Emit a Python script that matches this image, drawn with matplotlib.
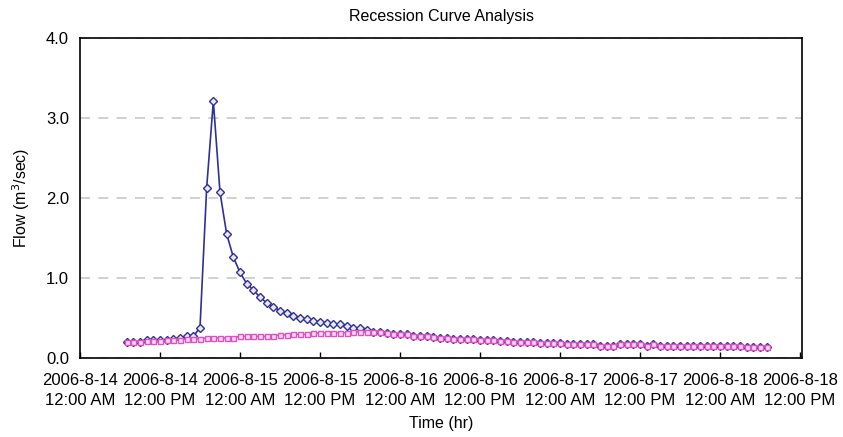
import datetime as dt
import matplotlib
matplotlib.use("Agg")
import matplotlib.pyplot as plt
import matplotlib.dates as mdates
from matplotlib.ticker import FuncFormatter, MultipleLocator

plt.rcParams['font.family'] = ['Liberation Sans', 'DejaVu Sans']

# hourly readings, first one at 2006-8-14 07:00
start = dt.datetime(2006, 8, 14, 7)

# storm hydrograph (before the two curves merge)
observed_head = [0.20, 0.20, 0.20, 0.23, 0.22, 0.22, 0.22, 0.24, 0.25, 0.27,
                 0.27, 0.38, 2.13, 3.21, 2.07, 1.55, 1.26, 1.07, 0.93, 0.85,
                 0.76, 0.69, 0.64, 0.59, 0.56, 0.525, 0.50, 0.483, 0.467, 0.45,
                 0.44, 0.43, 0.42, 0.40, 0.38, 0.37, 0.35]
# baseflow curve over the same hours
baseflow_head = [0.20, 0.20, 0.20, 0.21, 0.21, 0.21, 0.22, 0.23, 0.23, 0.235,
                 0.235, 0.24, 0.25, 0.25, 0.25, 0.25, 0.255, 0.27, 0.27, 0.27,
                 0.27, 0.27, 0.28, 0.285, 0.29, 0.295, 0.295, 0.295, 0.31, 0.31,
                 0.315, 0.315, 0.315, 0.315, 0.325, 0.325, 0.33]
# recession tail shared by both series
tail = [0.33, 0.32, 0.31, 0.30, 0.30, 0.295, 0.28, 0.275, 0.27, 0.265,
        0.255, 0.25, 0.24, 0.235, 0.235, 0.235, 0.23, 0.225, 0.22, 0.215,
        0.21, 0.20, 0.20, 0.195, 0.195, 0.19, 0.19, 0.185, 0.183, 0.175,
        0.17, 0.17, 0.17, 0.17, 0.15, 0.15, 0.15, 0.175, 0.175, 0.175,
        0.175, 0.155, 0.175, 0.155, 0.155, 0.155, 0.155, 0.155, 0.155, 0.155,
        0.155, 0.155, 0.155, 0.155, 0.155, 0.15, 0.135, 0.135, 0.135, 0.135]

observed = observed_head + tail
baseflow = baseflow_head + tail
times = [start + dt.timedelta(hours=i) for i in range(len(observed))]

fig = plt.figure(figsize=(8.43, 4.37), dpi=100)
ax = fig.add_axes([0.0949, 0.1808, 0.8565, 0.7322])

ax.plot(times, observed, color='#30309a', lw=1.2, marker='D', ms=3.6,
        mfc='#e8e8f8', mec='#30309a', mew=1.0)
ax.plot(times, baseflow, color='#e050c0', lw=1.2, marker='s', ms=3.6,
        mfc='#f8e0f2', mec='#e050c0', mew=1.0)

t0 = dt.datetime(2006, 8, 14)
ax.set_xlim(t0, t0 + dt.timedelta(hours=108.3))
ax.set_ylim(0, 4)
ax.yaxis.set_major_locator(MultipleLocator(1.0))
ax.yaxis.set_major_formatter(FuncFormatter(lambda v, p: '%.1f' % v))

ticks = [t0 + dt.timedelta(hours=12 * i) for i in range(10)]
ax.set_xticks(ticks)


def fmt(v, p):
    d = mdates.num2date(v)
    ampm = 'AM' if d.hour < 12 else 'PM'
    return '2006-8-%d\n12:00 %s' % (d.day, ampm)


ax.xaxis.set_major_formatter(FuncFormatter(fmt))
ax.tick_params(axis='x', direction='in', length=4, width=1, pad=11)
ax.tick_params(axis='y', length=0, labelsize=12, pad=8)
for lab in ax.get_xticklabels():
    lab.set_fontsize(12)
    lab.set_linespacing(1.4)

ax.grid(axis='y', color='#c8c8c8', ls=(0, (6, 5)), lw=1.2)
for s in ax.spines.values():
    s.set_linewidth(1.2)

ax.set_title('Recession Curve Analysis', fontsize=11.5, pad=12)
ax.set_xlabel('Time (hr)', fontsize=11.5, labelpad=6)
ax.set_ylabel('Flow (m$^3$/sec)', fontsize=11.5, labelpad=10)

fig.savefig('out.png', dpi=100)
